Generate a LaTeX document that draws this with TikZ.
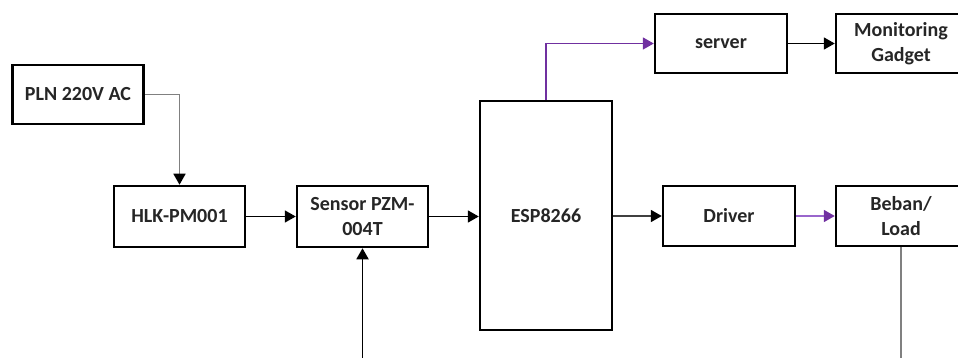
\documentclass[tikz,border=0pt]{standalone}
\usepackage{fontspec}
\setmainfont{Carlito}
\usetikzlibrary{arrows.meta}
\definecolor{ofpurple}{HTML}{7030A0}
\definecolor{ltpurple}{HTML}{9966CC}
\definecolor{gline}{HTML}{808080}
\begin{document}
\begin{tikzpicture}[x=1pt,y=-1pt,
  blk/.style={draw=black,line width=2.5pt,fill=white,inner sep=2pt,align=center,
    font=\fontsize{20}{25}\selectfont\bfseries,text=black!85},
  conn/.style={line width=1.8pt,-{Triangle[length=11pt,width=12pt,color=#1]}},
  conn/.default=black]
\useasboundingbox (0,0) rectangle (958,358);
\clip (0,0) rectangle (958,358);
\node[blk,minimum width=131pt,minimum height=59pt] (pln) at (78,94.5) {PLN 220V AC};
\node[blk,minimum width=131pt,minimum height=61pt] (hlk) at (179.5,216.5) {HLK-PM001};
\node[blk,minimum width=131pt,minimum height=61pt] (sen) at (362.5,216.5) {Sensor PZM-\\004T};
\node[blk,minimum width=132pt,minimum height=229pt] (esp) at (546,215.5) {ESP8266};
\node[blk,minimum width=132pt,minimum height=59pt] (srv) at (721,43.5) {server};
\node[blk,minimum width=130pt,minimum height=59pt] (mon) at (901,43.5) {Monitoring\\Gadget};
\node[blk,minimum width=132pt,minimum height=60pt] (drv) at (729,216) {Driver};
\node[blk,minimum width=130pt,minimum height=60pt] (bbn) at (901,216) {Beban/\\Load};
\coordinate (sin) at (362.5,358);
\coordinate (bout) at (901,358);
\draw[conn,draw=gline] (pln.east) -| (hlk.north);
\draw[conn] (hlk.east) -- (sen.west);
\draw[conn] (sen.east) -- (esp.west |- sen.east);
\draw[conn=ofpurple,draw=ofpurple] (esp.north) |- (srv.west);
\draw[conn] (srv.east) -- (mon.west);
\draw[conn,draw=black!75] (esp.east |- drv.west) -- (drv.west);
\draw[conn=ofpurple,draw=ltpurple] (drv.east) -- (bbn.west);
\draw[conn] (sin) -- (sen.south);
\draw[line width=1.8pt,draw=gline] (bbn.south) -- (bout);
\end{tikzpicture}
\end{document}
